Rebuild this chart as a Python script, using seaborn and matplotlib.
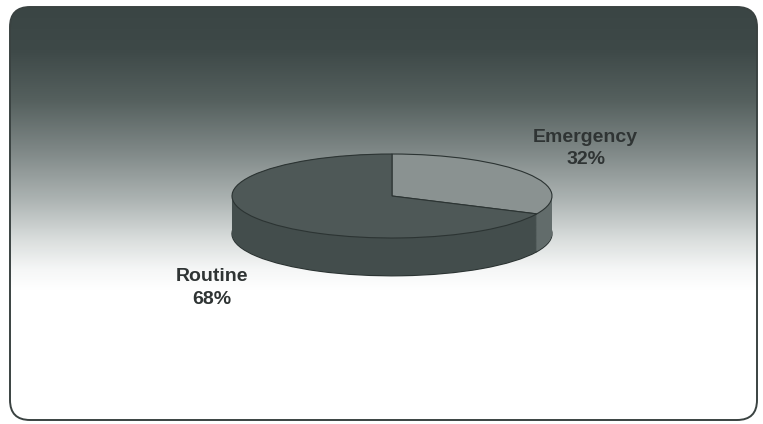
import numpy as np
import matplotlib
matplotlib.use("Agg")
import matplotlib.pyplot as plt
from matplotlib.patches import FancyBboxPatch
from matplotlib.colors import to_rgb
import seaborn as sns

# Visit types and their shares (%)
categories = ["Emergency", "Routine"]
shares = [32, 68]

top_colors = ["#8a9291", "#4e5857"]
side_colors = ["#626c6b", "#434d4c"]
edge_color = "#2c3433"

sns.set_theme(style="white")
plt.rcParams["font.family"] = ["Liberation Sans", "DejaVu Sans"]

W, H = 763, 424
fig = plt.figure(figsize=(W / 100, H / 100), dpi=100)
fig.patch.set_facecolor("white")

# ---- rounded panel with a vertical dark-to-white gradient ----
bg = fig.add_axes([0, 0, 1, 1])
bg.set_xlim(0, W)
bg.set_ylim(H, 0)
bg.axis("off")

stops_y = [7, 50, 100, 150, 200, 240, 270, 290, 420]
stops_c = ["#3a4544", "#3e4948", "#55605e", "#7e8786", "#adb4b3",
           "#dadedd", "#f6f7f7", "#ffffff", "#ffffff"]
ys = np.arange(7, 421)
rgb = np.array([to_rgb(c) for c in stops_c])
grad = np.stack([np.interp(ys, stops_y, rgb[:, k]) for k in range(3)], axis=-1)
grad = grad[:, None, :]

panel = FancyBboxPatch((10, 7), 747, 413,
                       boxstyle="round,pad=0,rounding_size=20",
                       facecolor="none", edgecolor="#3a4241", linewidth=1.4,
                       zorder=3)
bg.add_patch(panel)
img = bg.imshow(grad, extent=(10, 757, 420, 7), aspect="auto",
                interpolation="bilinear", zorder=1)
img.set_clip_path(panel)

# ---- 3-D style pie: stacked layers form the cylinder wall ----
# axes sized so one data unit = 160 px horizontally and 42 px vertically
left_px, right_px = 192, 592
top_px, bot_px = 133, 301
ax = fig.add_axes([left_px / W, (H - bot_px) / H,
                   (right_px - left_px) / W, (bot_px - top_px) / H])
ax.set_facecolor("none")
depth = 0.9

layers = np.linspace(-depth, 0, 70)
for i, d in enumerate(layers):
    ax.pie(shares, colors=side_colors, startangle=90, counterclock=False,
           center=(0, d), radius=1, frame=True,
           wedgeprops=dict(linewidth=0.9 if i == 0 else 0,
                           edgecolor=edge_color))
ax.pie(shares, colors=top_colors, startangle=90, counterclock=False,
       center=(0, 0), radius=1, frame=True,
       wedgeprops=dict(linewidth=0.8, edgecolor=edge_color))

ax.set_aspect("auto")
ax.set_xlim(-1.25, 1.25)
ax.set_ylim(-2.5, 1.5)
ax.axis("off")

label_pos = {"Emergency": (1.21, 1.13), "Routine": (-1.125, -2.19)}
for name, val in zip(categories, shares):
    x, y = label_pos[name]
    ax.text(x, y, f"{name}\n{val}%", ha="center", va="center",
            fontsize=14, fontweight="bold", color="#2f3434",
            linespacing=1.45, clip_on=False)

fig.savefig("out.png", dpi=100)
